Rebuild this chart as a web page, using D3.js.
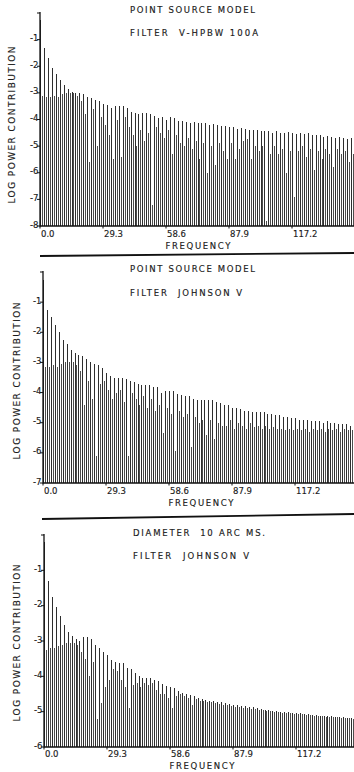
<!DOCTYPE html>
<html><head><meta charset="utf-8">
<script src="https://cdn.jsdelivr.net/npm/d3@7"></script>
<style>
html,body{margin:0;padding:0;background:#fff;}
svg{display:block;}
text{font-family:"DejaVu Sans",sans-serif;fill:#1a1a1a;white-space:pre;stroke:#1a1a1a;stroke-width:0.15;}
</style></head><body>
<svg id="c" width="354" height="772"></svg>
<script>
// ---------- DATA ----------
const xTickValues = [0, 29.3, 58.6, 87.9, 117.2];
const xTickLabels = ["0.0", "29.3", "58.6", "87.9", "117.2"];
const xAxisTitle = "FREQUENCY";
const yAxisTitle = "LOG POWER CONTRIBUTION";
const freqMax = 146.5;          // right end of frequency axis
const binCount = 160;           // frequency bins across the axis

const p1Titles = ["POINT SOURCE MODEL", "FILTER  V-HPBW 100A"];
const p1YTicks = [-8, -7, -6, -5, -4, -3, -2, -1, 0];
const p1YLabels = ["-8", "-7", "-6", "-5", "-4", "-3", "-2", "-1", ""];
const p1Peaks = [-0.25,-1.3,-1.7,-2.05,-2.3,-2.5,-2.7,-2.85,-2.95,-3.0,
  -3.0,-3.05,-3.15,-3.2,-3.25,-3.3,-3.4,-3.45,-3.55,-3.5,
  -3.5,-3.5,-3.55,-3.7,-3.75,-3.8,-3.75,-3.75,-3.8,-3.85,
  -3.95,-3.9,-4.0,-3.9,-3.95,-4.05,-4.05,-4.1,-4.15,-4.1,
  -4.15,-4.12,-4.15,-4.2,-4.18,-4.22,-4.25,-4.25,-4.3,-4.28,
  -4.35,-4.32,-4.35,-4.4,-4.4,-4.38,-4.45,-4.42,-4.45,-4.5,
  -4.45,-4.5,-4.52,-4.48,-4.5,-4.55,-4.52,-4.55,-4.52,-4.6,
  -4.58,-4.6,-4.65,-4.62,-4.65,-4.68,-4.65,-4.7,-4.72,-4.7];
const p1Fills = [-3.1,-3.15,-3.15,-3.1,-3.15,-3.05,-3.0,-3.0,-3.0,-3.1,
  -3.3,-3.8,-5.6,-3.6,-5.0,-3.9,-4.2,-4.6,-5.5,-4.0,
  -5.4,-3.9,-4.3,-4.6,-5.0,-4.4,-4.8,-4.5,-7.2,-4.3,
  -4.5,-4.7,-4.4,-5.3,-4.6,-4.9,-5.0,-4.7,-5.1,-4.8,
  -5.5,-4.9,-6.0,-5.0,-5.7,-4.9,-5.2,-5.5,-4.9,-5.5,
  -5.1,-4.8,-4.75,-5.5,-5.0,-5.2,-5.0,-7.8,-5.3,-5.0,
  -5.3,-5.1,-6.0,-5.2,-6.9,-5.2,-5.0,-5.4,-5.1,-5.9,
  -5.2,-5.5,-5.1,-5.3,-5.8,-5.1,-5.3,-5.2,-5.6,-5.3];

const p2Titles = ["POINT SOURCE MODEL", "FILTER  JOHNSON V"];
const p2YTicks = [-7, -6, -5, -4, -3, -2, -1, 0];
const p2YLabels = ["-7", "-6", "-5", "-4", "-3", "-2", "-1", ""];
const p2Peaks = [-0.27,-1.25,-1.5,-1.75,-2.0,-2.25,-2.4,-2.6,-2.7,-2.75,
  -2.8,-2.9,-3.0,-3.05,-3.1,-3.2,-3.35,-3.45,-3.5,-3.5,
  -3.5,-3.55,-3.6,-3.65,-3.7,-3.75,-3.75,-3.75,-3.8,-3.8,
  -4.0,-3.95,-3.95,-3.95,-4.05,-4.07,-4.1,-4.1,-4.2,-4.25,
  -4.25,-4.25,-4.25,-4.25,-4.3,-4.35,-4.4,-4.4,-4.5,-4.5,
  -4.55,-4.6,-4.6,-4.65,-4.65,-4.65,-4.65,-4.7,-4.7,-4.75,
  -4.75,-4.8,-4.8,-4.85,-4.85,-4.9,-4.9,-4.9,-4.95,-4.95,
  -4.95,-5.0,-4.95,-5.0,-5.0,-5.05,-5.05,-5.05,-5.1,-5.1];
const p2Fills = [-3.15,-3.15,-3.1,-3.15,-3.05,-3.0,-3.0,-3.0,-3.1,-3.3,
  -4.4,-3.6,-4.2,-6.1,-3.7,-3.6,-3.9,-4.2,-4.0,-3.9,
  -4.3,-6.1,-4.0,-4.2,-4.4,-4.1,-4.5,-4.2,-4.6,-4.4,
  -5.35,-4.5,-4.7,-5.95,-4.6,-4.8,-4.7,-5.8,-4.8,-5.0,
  -4.9,-5.4,-4.9,-5.55,-5.0,-5.1,-5.1,-4.9,-5.2,-5.0,
  -5.1,-5.2,-5.0,-5.15,-5.1,-5.2,-5.1,-5.2,-5.15,-5.2,
  -5.2,-5.25,-5.2,-5.25,-5.2,-5.25,-5.2,-5.3,-5.2,-5.25,
  -5.2,-5.3,-5.2,-5.25,-5.2,-5.3,-5.2,-5.25,-5.25,-5.3];

const p3Titles = ["DIAMETER  10 ARC MS.", "FILTER  JOHNSON V"];
const p3YTicks = [-6, -5, -4, -3, -2, -1, 0];
const p3YLabels = ["-6", "-5", "-4", "-3", "-2", "-1", ""];
const p3Peaks = [-0.2,-1.3,-1.75,-2.05,-2.3,-2.55,-2.75,-2.85,-2.95,-3.0,
  -2.9,-2.9,-2.95,-3.1,-3.2,-3.3,-3.4,-3.55,-3.6,-3.63,
  -3.63,-3.75,-3.8,-3.9,-4.0,-4.05,-4.05,-4.05,-4.1,-4.12,
  -4.22,-4.28,-4.3,-4.32,-4.42,-4.47,-4.5,-4.53,-4.57,-4.6,
  -4.64,-4.67,-4.69,-4.7,-4.72,-4.74,-4.76,-4.78,-4.8,-4.82,
  -4.84,-4.85,-4.87,-4.88,-4.9,-4.92,-4.94,-4.95,-4.97,-4.98,
  -5.0,-5.0,-5.02,-5.03,-5.04,-5.05,-5.06,-5.08,-5.09,-5.1,
  -5.11,-5.12,-5.13,-5.13,-5.14,-5.15,-5.16,-5.17,-5.17,-5.18];
const p3Fills = [-3.25,-3.2,-3.2,-3.15,-3.1,-3.05,-3.05,-3.05,-3.1,-3.3,
  -3.5,-4.0,-3.6,-5.2,-4.75,-4.3,-4.1,-3.8,-3.85,-4.1,
  -4.3,-4.9,-4.25,-4.2,-4.3,-4.2,-4.25,-4.2,-4.4,-4.5,
  -4.5,-4.6,-4.9,-4.55,-4.5,-4.55,-4.6,-4.8,-4.65,-4.7,
  -4.7,-4.72,-4.74,-4.76,-4.78,-4.8,-4.82,-4.84,-4.86,-4.88,
  -4.9,-4.9,-4.92,-4.93,-4.95,-4.96,-4.98,-4.99,-5.0,-5.02,
  -5.03,-5.04,-5.05,-5.06,-5.07,-5.08,-5.09,-5.1,-5.11,-5.12,
  -5.13,-5.14,-5.15,-5.15,-5.16,-5.17,-5.18,-5.19,-5.2,-5.2];

// ---------- LAYOUT ----------
const panels = [
  {peaks: p1Peaks, fills: p1Fills, titles: p1Titles, yTicks: p1YTicks, yLabels: p1YLabels,
   x0: 40, yTop: 13, yBot: 226, axisTop: 12,
   titleLayout: [{x:130, y:13, w:125}, {x:130, y:35.5, w:128}],
   yLabelPos: {x: 11, y: 125}, tickBase: 237, freqBase: 248.5},
  {peaks: p2Peaks, fills: p2Fills, titles: p2Titles, yTicks: p2YTicks, yLabels: p2YLabels,
   x0: 43, yTop: 272, yBot: 483, axisTop: 271,
   titleLayout: [{x:130, y:271.5, w:125}, {x:130, y:295.5, w:112}],
   yLabelPos: {x: 16.5, y: 381}, tickBase: 494, freqBase: 505.5},
  {peaks: p3Peaks, fills: p3Fills, titles: p3Titles, yTicks: p3YTicks, yLabels: p3YLabels,
   x0: 44, yTop: 535, yBot: 747, axisTop: 534,
   titleLayout: [{x:133, y:535.5, w:132}, {x:133, y:558.5, w:116}],
   yLabelPos: {x: 16.5, y: 643}, tickBase: 757, freqBase: 768.5}
];
const separators = [[40, 256, 354, 253], [42, 519, 354, 514]];

const svg = d3.select("#c");
const binWidth = freqMax / binCount;

panels.forEach((p, pi) => {
  const x = d3.scaleLinear().domain([0, freqMax]).range([p.x0, p.x0 + 315]);
  const yMin = d3.min(p.yTicks), yMax = d3.max(p.yTicks);
  const y = d3.scaleLinear().domain([yMin, yMax]).range([p.yBot, p.yTop]);
  const g = svg.append("g");

  // bars: even bins carry the tall spikes, odd bins the in-between values
  const bars = [];
  p.peaks.forEach((v, i) => {
    bars.push({f: (2 * i) * binWidth, v: v, spike: true});
    bars.push({f: (2 * i + 1) * binWidth, v: p.fills[i], spike: false});
  });
  g.append("g").attr("shape-rendering", "crispEdges")
    .selectAll("line").data(bars).join("line")
    .attr("x1", d => Math.round(x(d.f)) + 0.5).attr("x2", d => Math.round(x(d.f)) + 0.5)
    .attr("y1", y(yMin)).attr("y2", d => y(d.v))
    .attr("stroke", d => d.spike ? "#2e2e2e" : "#4c4c4c")
    .attr("stroke-width", 1);

  // y axis
  g.append("line").attr("x1", p.x0).attr("x2", p.x0)
    .attr("y1", p.axisTop).attr("y2", p.yBot + 0.5)
    .attr("stroke", "#111").attr("stroke-width", 1.3);
  g.append("g").selectAll("line").data(p.yTicks).join("line")
    .attr("x1", p.x0 - 3).attr("x2", p.x0)
    .attr("y1", d => y(d)).attr("y2", d => y(d))
    .attr("stroke", "#111").attr("stroke-width", 1);
  g.append("g").selectAll("text").data(p.yTicks).join("text")
    .attr("x", p.x0 - 1.5).attr("y", d => y(d) + 1.5)
    .attr("text-anchor", "end").attr("font-size", 8.5)
    .text((d, i) => p.yLabels[i]);

  // x axis
  g.append("line").attr("x1", p.x0).attr("x2", 354)
    .attr("y1", p.yBot).attr("y2", p.yBot)
    .attr("stroke", "#111").attr("stroke-width", 1.5);
  g.append("g").selectAll("line").data(xTickValues).join("line")
    .attr("x1", d => x(d)).attr("x2", d => x(d))
    .attr("y1", p.yBot).attr("y2", p.yBot + 2.5)
    .attr("stroke", "#111").attr("stroke-width", 1);
  g.append("g").selectAll("text").data(xTickValues).join("text")
    .attr("x", d => x(d) + 1).attr("y", p.tickBase)
    .attr("font-size", 8.5)
    .text((d, i) => xTickLabels[i]);
  g.append("text").attr("x", x(freqMax * 0.5) - 32).attr("y", p.freqBase)
    .attr("font-size", 8.5).attr("textLength", 65).attr("lengthAdjust", "spacing")
    .text(xAxisTitle);

  // y axis title
  g.append("text")
    .attr("transform", `translate(${p.yLabelPos.x + 3.5},${p.yLabelPos.y}) rotate(-90)`)
    .attr("text-anchor", "middle").attr("font-size", 9)
    .attr("textLength", 157).attr("lengthAdjust", "spacing")
    .text(yAxisTitle);

  // titles
  p.titles.forEach((t, i) => {
    const L = p.titleLayout[i];
    g.append("text").attr("x", L.x).attr("y", L.y)
      .attr("font-size", 8.5).attr("textLength", L.w).attr("lengthAdjust", "spacing")
      .text(t);
  });
});

svg.append("g").selectAll("line").data(separators).join("line")
  .attr("x1", d => d[0]).attr("y1", d => d[1]).attr("x2", d => d[2]).attr("y2", d => d[3])
  .attr("stroke", "#111").attr("stroke-width", 1.8);
</script>
</body></html>
